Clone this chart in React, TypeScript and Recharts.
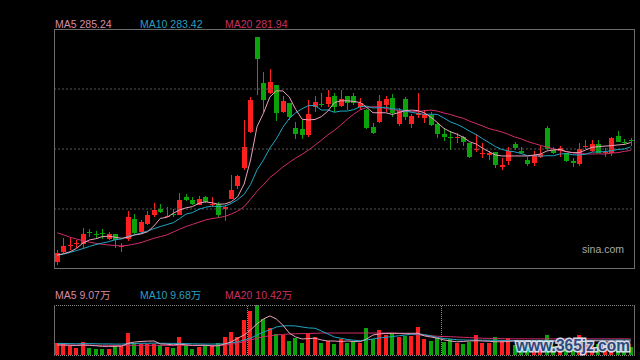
import React from 'react';
import { ComposedChart, Bar, Line, XAxis, YAxis, ReferenceLine } from 'recharts';

// ---- price data (one candle per trading day) ----
const opens = [
  235.5, 239.7, 242.3, 243.3, 243.1, 247.9, 247.2, 247.3, 244.8, 247.0,
  241.7, 245.2, 253.2, 247.9, 251.3, 254.9, 257.4, 254.5, 255.6, 254.9,
  262.4, 261.3, 259.2, 262.4, 259.5, 259.6, 257.6, 261.7, 267.1, 274.6,
  289.6, 329.3, 310.0, 305.8, 309.2, 297.9, 301.5, 291.3, 290.8, 288.3,
  299.8, 301.4, 301.4, 304.6, 300.4, 304.6, 304.6, 300.2, 298.7, 291.5,
  293.9, 300.8, 303.6, 293.1, 303.2, 292.9, 296.7, 295.3, 296.7, 292.9,
  288.7, 287.5, 287.1, 287.6, 284.9, 282.1, 280.5, 280.0, 281.4, 274.9,
  277.6, 284.6, 281.8, 277.9, 276.8, 279.3, 291.4, 282.1, 281.8, 281.0,
  277.5, 276.3, 283.2, 281.8, 284.5, 280.7, 280.7, 287.9, 285.5, 286.4,
];
const highs = [
  240.4, 245.3, 245.4, 244.6, 249.5, 249.2, 248.3, 249.2, 248.0, 247.1,
  243.3, 256.7, 255.4, 252.9, 256.6, 259.9, 259.6, 258.5, 257.4, 264.0,
  263.6, 262.6, 262.9, 262.9, 262.4, 260.5, 259.0, 271.5, 271.6, 294.6,
  304.2, 329.3, 314.7, 315.7, 309.2, 304.6, 301.7, 293.9, 294.6, 302.8,
  304.5, 306.0, 307.1, 305.7, 307.1, 304.6, 306.0, 303.6, 299.0, 293.5,
  304.8, 304.6, 305.4, 299.4, 304.3, 297.1, 305.7, 298.7, 297.9, 293.9,
  291.4, 290.1, 289.0, 287.9, 285.1, 288.6, 285.1, 281.8, 281.4, 278.6,
  283.5, 285.5, 283.5, 279.0, 281.8, 283.7, 292.2, 283.5, 283.7, 281.0,
  278.6, 285.1, 286.2, 286.2, 286.2, 282.8, 287.6, 290.0, 286.6, 287.1,
];
const lows = [
  234.2, 239.0, 240.4, 241.3, 241.3, 246.0, 245.4, 245.0, 244.6, 241.3,
  239.7, 244.3, 247.1, 247.4, 250.8, 254.3, 256.0, 254.0, 254.0, 254.8,
  261.0, 259.3, 259.0, 259.9, 258.3, 254.2, 252.6, 261.5, 265.8, 273.7,
  289.2, 305.0, 297.9, 305.6, 294.0, 297.4, 294.6, 286.5, 286.6, 287.5,
  297.9, 299.9, 300.0, 298.0, 300.1, 298.7, 300.8, 298.7, 290.8, 288.8,
  293.3, 298.0, 295.7, 292.1, 294.6, 291.3, 295.4, 293.2, 292.1, 287.0,
  286.0, 282.1, 284.9, 283.7, 278.6, 281.4, 278.6, 277.9, 274.5, 273.7,
  275.8, 282.1, 280.4, 275.4, 275.4, 278.6, 282.1, 280.4, 279.3, 277.2,
  275.2, 275.4, 282.4, 281.4, 280.7, 279.3, 279.6, 285.4, 284.2, 283.6,
];
const closes = [
  239.0, 242.1, 242.5, 243.5, 247.0, 247.6, 246.9, 246.9, 247.0, 244.6,
  241.9, 254.1, 247.3, 252.0, 254.9, 257.1, 256.3, 254.7, 255.2, 261.3,
  261.3, 259.6, 261.5, 260.4, 259.7, 254.9, 258.2, 265.4, 271.3, 283.3,
  302.9, 320.0, 302.9, 310.4, 297.6, 302.5, 295.7, 288.9, 288.5, 297.0,
  302.2, 301.1, 304.2, 300.0, 303.3, 301.7, 301.7, 301.5, 291.4, 289.3,
  302.5, 303.3, 297.6, 298.3, 295.7, 296.2, 297.4, 297.1, 292.5, 288.7,
  287.4, 287.2, 287.3, 285.5, 279.3, 282.7, 280.7, 280.7, 275.8, 276.0,
  281.8, 282.8, 280.7, 276.2, 280.0, 280.4, 282.5, 281.0, 282.8, 277.6,
  276.5, 282.5, 283.7, 284.6, 281.0, 281.4, 287.2, 285.5, 284.9, 286.2,
];
const ma5 = [
  238.3, 238.9, 239.7, 241.1, 243.3, 244.6, 245.1, 246.0, 246.2, 245.7,
  245.3, 245.7, 246.7, 247.1, 248.0, 250.4, 253.6, 254.0, 255.7, 257.1,
  258.0, 258.5, 259.9, 260.5, 260.1, 259.5, 259.6, 260.5, 262.6, 267.9,
  277.9, 291.8, 297.4, 304.2, 306.7, 306.7, 304.2, 299.0, 294.9, 294.6,
  294.8, 296.0, 298.3, 301.8, 302.6, 302.6, 302.3, 301.9, 299.9, 297.6,
  297.6, 297.6, 296.9, 297.7, 298.5, 298.7, 298.5, 297.5, 295.7, 293.5,
  291.1, 289.7, 288.7, 287.4, 285.5, 284.6, 282.8, 281.4, 280.0, 279.6,
  279.6, 279.6, 279.6, 279.6, 280.0, 280.4, 281.7, 282.1, 282.3, 281.4,
  281.0, 281.0, 282.1, 283.2, 283.5, 283.7, 283.9, 284.2, 284.4, 285.2,
];
const ma10 = [
  238.3, 238.7, 239.4, 240.2, 241.0, 241.9, 242.7, 243.3, 243.9, 244.7,
  245.0, 246.2, 246.7, 247.5, 248.3, 249.3, 250.2, 251.0, 251.8, 253.5,
  255.4, 256.0, 257.4, 258.2, 258.7, 258.5, 258.7, 259.8, 261.4, 263.6,
  267.7, 273.8, 277.9, 282.9, 286.7, 291.5, 295.2, 297.6, 299.3, 300.6,
  300.6, 298.7, 298.8, 297.8, 298.3, 298.3, 298.9, 300.1, 300.4, 299.6,
  299.7, 299.9, 299.2, 299.1, 298.3, 297.8, 297.3, 296.9, 297.0, 296.9,
  295.4, 293.8, 292.8, 291.5, 289.9, 288.5, 286.8, 285.2, 283.5, 282.3,
  281.7, 281.3, 280.6, 279.7, 279.7, 279.5, 279.7, 279.7, 280.4, 280.6,
  280.1, 280.0, 280.3, 281.2, 281.3, 281.4, 281.8, 282.3, 282.5, 283.4,
];
const ma20 = [
  247.6, 246.7, 245.7, 245.0, 244.3, 243.7, 243.2, 242.8, 242.5, 242.3,
  242.1, 242.4, 242.9, 243.5, 244.4, 245.3, 246.0, 246.7, 247.9, 249.1,
  250.2, 251.1, 252.0, 252.9, 253.5, 253.9, 254.4, 255.4, 256.6, 258.5,
  261.6, 264.9, 267.6, 270.6, 272.7, 275.0, 276.9, 278.7, 280.3, 282.1,
  284.1, 286.2, 288.4, 290.3, 292.5, 294.9, 297.0, 298.8, 299.8, 300.1,
  300.1, 299.3, 299.0, 298.4, 298.3, 298.0, 298.1, 298.5, 298.7, 298.3,
  297.5, 296.9, 296.0, 295.3, 294.1, 293.1, 292.1, 291.0, 290.3, 289.6,
  288.6, 287.5, 286.7, 285.6, 284.8, 284.0, 283.3, 282.5, 282.0, 281.4,
  280.9, 280.6, 280.5, 280.4, 280.5, 280.4, 280.8, 281.0, 281.5, 281.9,
];

// ---- volume data (万) ----
const volumes = [
  7.6, 7.6, 6.0, 4.7, 8.6, 4.7, 4.1, 4.1, 3.9, 6.3,
  6.0, 14.5, 7.6, 7.2, 7.2, 7.2, 6.5, 5.4, 4.7, 11.9,
  6.5, 3.9, 5.4, 6.3, 5.9, 8.0, 11.7, 15.1, 11.5, 22.8,
  28.6, 32.5, 23.2, 17.7, 13.8, 12.8, 9.3, 11.2, 8.0, 14.5,
  11.9, 8.0, 9.1, 7.2, 10.2, 8.0, 9.1, 8.0, 17.7, 10.2,
  16.3, 12.8, 14.1, 11.9, 12.4, 12.4, 18.2, 10.4, 9.1, 10.9,
  8.5, 10.2, 8.0, 7.2, 8.5, 13.0, 7.6, 8.0, 11.7, 9.6,
  10.9, 6.5, 6.5, 7.8, 8.5, 6.5, 13.0, 5.9, 7.2, 7.8,
  5.9, 13.0, 6.5, 7.8, 7.2, 5.9, 9.8, 7.8, 5.9, 5.2,
];
const volMa5 = [
  6.5, 6.5, 6.3, 6.2, 6.5, 6.3, 6.0, 5.6, 5.6, 5.6,
  5.8, 7.6, 8.4, 8.8, 9.0, 9.1, 7.2, 7.0, 6.6, 7.0,
  6.6, 6.3, 6.3, 6.3, 5.9, 6.0, 7.2, 8.5, 10.9, 13.0,
  16.3, 20.2, 23.4, 25.4, 23.4, 19.5, 14.3, 11.7, 10.4, 10.7,
  10.9, 9.8, 9.1, 9.1, 8.8, 9.1, 8.8, 8.6, 10.4, 13.0,
  13.7, 14.0, 14.1, 14.1, 14.1, 14.1, 14.1, 12.4, 11.7, 10.9,
  9.8, 9.1, 8.6, 8.8, 9.1, 9.3, 9.1, 8.9, 8.6, 8.6,
  8.8, 9.1, 9.1, 9.0, 8.9, 8.7, 8.9, 9.0, 9.2, 9.3,
  9.2, 9.0, 9.1, 9.2, 9.2, 9.1, 9.0, 9.0, 9.0, 9.07,
];
const volMa10 = [
  7.5, 7.5, 7.4, 7.3, 7.4, 7.4, 7.3, 7.2, 7.2, 7.1,
  7.1, 7.3, 7.5, 7.6, 7.6, 7.7, 7.6, 7.6, 7.5, 7.6,
  7.4, 7.3, 7.2, 7.1, 7.1, 7.2, 7.3, 8.0, 8.5, 9.8,
  10.9, 13.0, 15.0, 16.3, 18.2, 18.9, 19.0, 18.9, 18.2, 17.6,
  17.4, 15.6, 13.7, 11.7, 10.9, 10.1, 9.6, 9.3, 9.8, 10.4,
  11.1, 11.5, 12.0, 12.5, 13.0, 13.5, 13.7, 13.3, 12.4, 11.4,
  10.7, 10.4, 9.9, 9.8, 9.7, 9.7, 9.6, 9.6, 9.5, 9.5,
  9.4, 9.4, 9.4, 9.4, 9.5, 9.5, 9.5, 9.5, 9.5, 9.5,
  9.5, 9.6, 9.6, 9.6, 9.6, 9.6, 9.6, 9.7, 9.7, 9.68,
];
const volMa20 = [
  6.6, 6.6, 6.5, 6.5, 6.4, 6.4, 6.3, 6.3, 6.3, 6.2,
  6.2, 6.3, 6.3, 6.3, 6.3, 6.3, 6.3, 6.2, 6.2, 6.3,
  6.3, 6.2, 6.2, 6.2, 6.2, 6.3, 6.4, 7.0, 7.6, 8.7,
  9.8, 10.9, 11.9, 12.5, 13.0, 13.4, 13.6, 13.8, 13.9, 14.0,
  14.1, 14.3, 14.3, 14.3, 14.3, 14.3, 14.3, 14.3, 14.3, 14.3,
  14.3, 14.3, 14.3, 14.0, 13.7, 13.4, 13.0, 12.7, 12.5, 12.2,
  12.0, 11.9, 11.7, 11.5, 11.3, 11.1, 10.9, 10.8, 10.7, 10.6,
  10.5, 10.5, 10.5, 10.5, 10.5, 10.5, 10.5, 10.5, 10.5, 10.5,
  10.5, 10.5, 10.5, 10.5, 10.5, 10.5, 10.5, 10.5, 10.5, 10.42,
];

const priceLegend = [
  { label: 'MA5', value: '285.24' },
  { label: 'MA10', value: '283.42' },
  { label: 'MA20', value: '281.94' },
];
const volLegend = [
  { label: 'MA5', value: '9.07万' },
  { label: 'MA10', value: '9.68万' },
  { label: 'MA20', value: '10.42万' },
];
const gridPrices = [257.5, 282.5, 307.5];
const priceDomain = [232.5, 332.5];
const volDomain = [0, 32.5];
const monthStarts = [30, 60];

// ---- styling ----
const UP = '#ff1f1f';
const DOWN = '#0aa40a';
const C5 = '#e9a2bb';
const C10 = '#1fa6c4';
const C20 = '#d12d6b';
const T5 = '#d88aa6';
const T10 = '#2a9fbf';
const T20 = '#cc2f63';
const FONT = "'Liberation Sans', Arial, 'Noto Sans CJK SC', sans-serif";

const W = 640;
const PLOT_L = 54;
const PLOT_R = 6;
const PLOT_W = W - PLOT_L - PLOT_R;

const data = closes.map((c, i) => ({
  i,
  open: opens[i],
  high: highs[i],
  low: lows[i],
  close: c,
  range: [lows[i], highs[i]],
  ma5: ma5[i],
  ma10: ma10[i],
  ma20: ma20[i],
  vol: volumes[i],
  vma5: volMa5[i],
  vma10: volMa10[i],
  vma20: volMa20[i],
  up: c >= opens[i],
}));

const Candle = (props: any) => {
  const { x, y, width, height, payload } = props;
  if (x == null || payload == null) return null;
  const { open, close, high, low } = payload;
  const k = high > low ? height / (high - low) : 0;
  const toY = (v: number) => y + (high - v) * k;
  const color = close >= open ? UP : DOWN;
  const cx = x + width / 2;
  const left = Math.round(cx - 2.5);
  const wickX = left + 2.5;
  const top = Math.round(toY(Math.max(open, close)));
  const bottom = Math.round(toY(Math.min(open, close)));
  const bh = Math.max(1, bottom - top);
  return (
    <g>
      <line x1={wickX} x2={wickX} y1={Math.round(y)} y2={Math.round(y + height)} stroke={color} strokeWidth={1} />
      <rect x={left} y={top} width={5} height={bh} fill={color} />
    </g>
  );
};

const VolBar = (props: any) => {
  const { x, y, width, height, payload } = props;
  if (x == null || payload == null) return null;
  const cx = x + width / 2;
  const left = Math.round(cx - 2);
  const top = Math.round(y);
  const bottom = Math.round(y + height);
  return <rect x={left} y={top} width={4} height={Math.max(0, bottom - top)} fill={payload.up ? UP : DOWN} />;
};

const legendColors = [T5, T10, T20];
const legendX = [55, 140, 225];

export default function App() {
  const band = PLOT_W / data.length;
  return (
    <div style={{ position: 'absolute', left: 0, top: 0, width: 640, height: 360, background: '#000', overflow: 'hidden' }}>
      <div style={{ position: 'absolute', left: 0, top: 0 }}>
        <ComposedChart width={640} height={280} data={data} margin={{ top: 29, right: PLOT_R, bottom: 11, left: PLOT_L }}>
          <XAxis dataKey="i" hide />
          <YAxis hide type="number" domain={priceDomain} allowDataOverflow />
          {gridPrices.map((g) => (
            <ReferenceLine key={g} y={g} stroke="#585858" strokeDasharray="2 2" />
          ))}
          <Bar dataKey="range" barSize={5} shape={Candle} isAnimationActive={false} />
          <Line dataKey="ma20" stroke={C20} strokeWidth={1} dot={false} isAnimationActive={false} />
          <Line dataKey="ma10" stroke={C10} strokeWidth={1} dot={false} isAnimationActive={false} />
          <Line dataKey="ma5" stroke={C5} strokeWidth={1} dot={false} isAnimationActive={false} />
        </ComposedChart>
      </div>
      <div style={{ position: 'absolute', left: 0, top: 280 }}>
        <ComposedChart width={640} height={80} data={data} margin={{ top: 25, right: PLOT_R, bottom: 5, left: PLOT_L }}>
          <XAxis dataKey="i" hide />
          <YAxis hide type="number" domain={volDomain} allowDataOverflow />
          <Bar dataKey="vol" barSize={4} shape={VolBar} isAnimationActive={false} />
          <Line dataKey="vma20" stroke={C20} strokeWidth={1} dot={false} isAnimationActive={false} />
          <Line dataKey="vma10" stroke={C10} strokeWidth={1} dot={false} isAnimationActive={false} />
          <Line dataKey="vma5" stroke={C5} strokeWidth={1} dot={false} isAnimationActive={false} />
        </ComposedChart>
      </div>
      <svg width={640} height={360} style={{ position: 'absolute', left: 0, top: 0, pointerEvents: 'none' }}>
        {/* main frame */}
        <rect x={PLOT_L + 0.5} y={29.5} width={PLOT_W} height={239} fill="none" stroke="#6c6c6c" />
        {/* volume frame */}
        <line x1={PLOT_L} x2={PLOT_L + PLOT_W + 1} y1={305.5} y2={305.5} stroke="#8a8a8a" strokeDasharray="1 1" />
        <line x1={PLOT_L} x2={PLOT_L + PLOT_W + 1} y1={355.5} y2={355.5} stroke="#8a8a8a" strokeDasharray="1 1" />
        <line x1={PLOT_L + 0.5} x2={PLOT_L + 0.5} y1={305} y2={356} stroke="#6c6c6c" />
        <line x1={PLOT_L + PLOT_W + 0.5} x2={PLOT_L + PLOT_W + 0.5} y1={305} y2={356} stroke="#6c6c6c" />
        {monthStarts.map((m) => {
          const xx = Math.round(PLOT_L + m * band) + 0.5;
          return <line key={m} x1={xx} x2={xx} y1={306} y2={355} stroke="#8a8a8a" strokeDasharray="1 1" />;
        })}
        {/* legends */}
        {priceLegend.map((l, k) => (
          <text key={'p' + k} x={legendX[k]} y={28} fill={legendColors[k]} fontSize={10.5} fontFamily={FONT}>
            {l.label} {l.value}
          </text>
        ))}
        {volLegend.map((l, k) => (
          <text key={'v' + k} x={legendX[k]} y={299} fill={legendColors[k]} fontSize={10.5} fontFamily={FONT}>
            {l.label} {l.value}
          </text>
        ))}
        <text x={582} y={253} fill="#a8a8a8" fontSize={10.5} fontFamily={FONT}>sina.com</text>
        <text
          x={516}
          y={351}
          fontSize={17}
          fontWeight="bold"
          fontFamily={FONT}
          textLength={114}
          lengthAdjust="spacingAndGlyphs"
          fill="#2c4c86"
          stroke="#dfe8f6"
          strokeWidth={3}
          style={{ paintOrder: 'stroke' }}
          opacity={0.92}
        >
          www.365jz.com
        </text>
      </svg>
    </div>
  );
}
